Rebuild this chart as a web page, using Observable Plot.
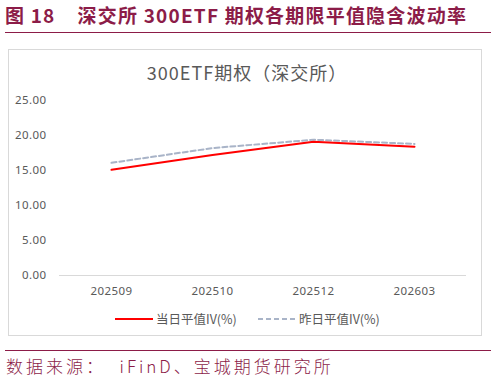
<!DOCTYPE html>
<html>
<head>
<meta charset="utf-8">
<script src="https://cdn.jsdelivr.net/npm/d3@7"></script>
<script src="https://cdn.jsdelivr.net/npm/@observablehq/plot@0.6"></script>
<style>
  html, body { margin: 0; padding: 0; background: #fff; }
  body { width: 494px; height: 382px; position: relative; overflow: hidden; font-family: "Noto Sans CJK SC", "Noto Sans", sans-serif; }
  #header { position: absolute; left: 5px; top: 1px; font-size: 19px; font-weight: bold; color: #8c1c48; white-space: nowrap; letter-spacing: 1.2px; }
  #hline { position: absolute; left: 5px; top: 32px; width: 486px; height: 1px; background: #8c1c48; }
  #box { position: absolute; left: 8px; top: 49px; width: 472px; height: 285px; border: 1px solid #d9d9d9; }
  #ctitle { position: absolute; left: 0; top: 59px; width: 494px; text-align: center; font-size: 18px; color: #595959; letter-spacing: 1px; }
  #chart { position: absolute; left: 0; top: 85px; }
  #legend { position: absolute; top: 307px; left: 0; width: 494px; font-size: 12.5px; color: #595959; }
  .lg { position: absolute; top: 0; white-space: nowrap; }
  #fline { position: absolute; left: 5px; top: 350px; width: 486px; height: 1px; background: #8c1c48; }
  #footer { position: absolute; left: 6px; top: 353px; font-size: 17px; color: #8c1c48; white-space: nowrap; font-weight: 300; letter-spacing: 3px; }
</style>
</head>
<body>
<div id="header">图 18&nbsp;&nbsp;&nbsp;&nbsp;深交所 300ETF 期权各期限平值隐含波动率</div>
<div id="hline"></div>
<div id="box"></div>
<div id="ctitle">300ETF期权（深交所）</div>
<div id="chart"></div>
<div id="legend"></div>
<div id="fline"></div>
<div id="footer">数据来源：&nbsp;&nbsp;iFinD、宝城期货研究所</div>
<script>
const categories = ["202509", "202510", "202512", "202603"];
const todayIV = [15.1, 17.2, 19.1, 18.4];
const yesterdayIV = [16.1, 18.2, 19.4, 18.8];
const yTicks = [0, 5, 10, 15, 20, 25];
const seriesNames = ["当日平值IV(%)", "昨日平值IV(%)"];

const data = [];
categories.forEach((c, i) => {
  data.push({cat: c, v: todayIV[i], s: seriesNames[0]});
  data.push({cat: c, v: yesterdayIV[i], s: seriesNames[1]});
});

const plot = Plot.plot({
  width: 494,
  height: 225,
  marginTop: 15,
  marginBottom: 35,
  marginLeft: 59,
  marginRight: 28,
  style: {fontFamily: "'Noto Sans', 'Open Sans', sans-serif", fontSize: "11.5px", color: "#595959", background: "transparent", letterSpacing: "0.4px"},
  x: {type: "point", domain: categories, padding: 0.5, label: null},
  y: {domain: [0, 25], label: null},
  marks: [
    Plot.ruleY([0], {stroke: "#d9d9d9", strokeWidth: 1}),
    Plot.axisY({ticks: yTicks, tickFormat: d => d.toFixed(2), tickSize: 0, tickPadding: 13, fill: "#595959", fontSize: 11.5, label: null}),
    Plot.axisX({tickSize: 0, tickPadding: 11, fill: "#595959", fontSize: 11.5, label: null}),
    Plot.line(data.filter(d => d.s === seriesNames[1]), {x: "cat", y: "v", stroke: "#a9b4c8", strokeWidth: 2, strokeDasharray: "5,3"}),
    Plot.line(data.filter(d => d.s === seriesNames[0]), {x: "cat", y: "v", stroke: "#ff0000", strokeWidth: 2})
  ]
});
document.getElementById("chart").appendChild(plot);

const legend = document.getElementById("legend");
const items = [
  {name: seriesNames[0], x: 115, color: "#ff0000", dash: null},
  {name: seriesNames[1], x: 258, color: "#a9b4c8", dash: "5,3"}
];
items.forEach(it => {
  const span = document.createElement("div");
  span.className = "lg";
  span.style.left = it.x + "px";
  span.innerHTML = `<svg width="41" height="12" style="vertical-align:middle"><line x1="0" x2="38" y1="6" y2="6" stroke="${it.color}" stroke-width="2" ${it.dash ? `stroke-dasharray="${it.dash}"` : ""}/></svg><span style="vertical-align:middle;">${it.name}</span>`;
  legend.appendChild(span);
});
</script>
</body>
</html>
